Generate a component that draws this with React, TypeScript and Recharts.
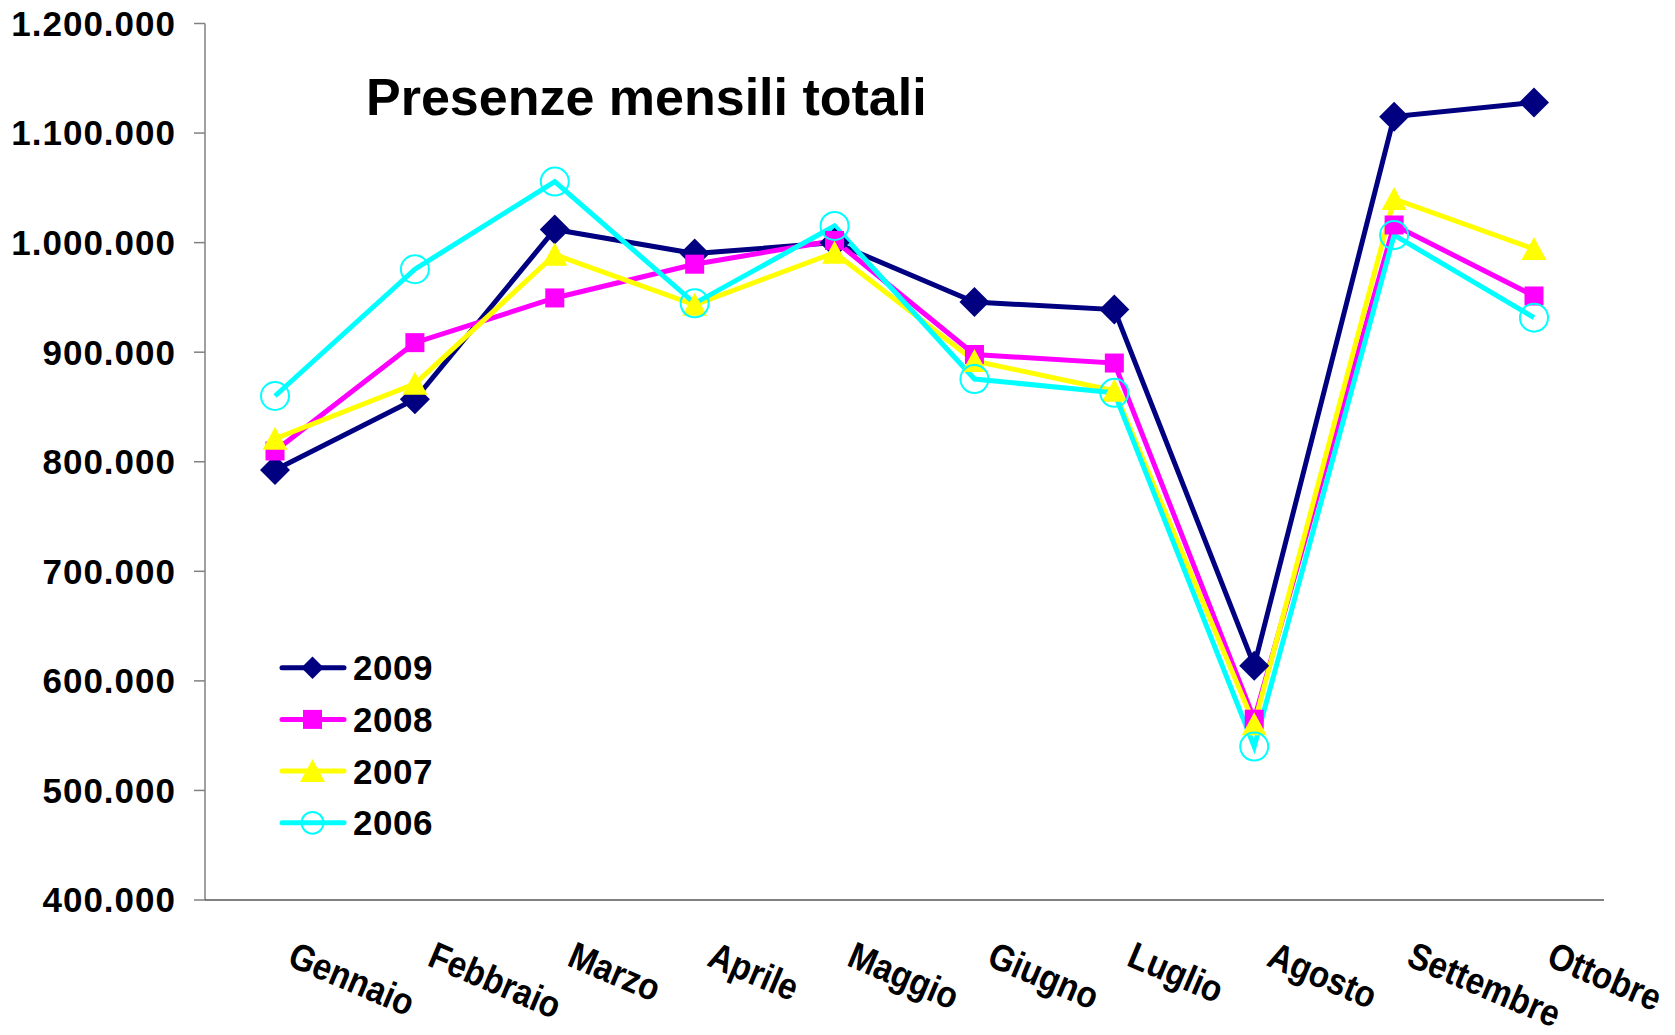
import React from 'react';
import { LineChart, Line, XAxis, YAxis } from 'recharts';

const months = [
  'Gennaio', 'Febbraio', 'Marzo', 'Aprile', 'Maggio',
  'Giugno', 'Luglio', 'Agosto', 'Settembre', 'Ottobre',
];

const values2009 = [792500, 857000, 1012000, 990000, 1000000, 945700, 938900, 613900, 1115000, 1128000];
const values2008 = [809800, 908700, 949500, 980300, 1002000, 897900, 890100, 565000, 1016100, 951300];
const values2007 = [821000, 871200, 989000, 943300, 990800, 892000, 864800, 560500, 1039800, 994200];
const values2006 = [860000, 975700, 1055700, 944600, 1015200, 875500, 862900, 540000, 1006900, 931500];

const yTicks = [400000, 500000, 600000, 700000, 800000, 900000, 1000000, 1100000, 1200000];

const series = [
  { key: 's2009', name: '2009', values: values2009, color: '#000080', shape: 'diamond' },
  { key: 's2008', name: '2008', values: values2008, color: '#FF00FF', shape: 'square' },
  { key: 's2007', name: '2007', values: values2007, color: '#FFFF00', shape: 'triangle' },
  { key: 's2006', name: '2006', values: values2006, color: '#00FFFF', shape: 'circle' },
];

const data = months.map((month, i) => {
  const row: Record<string, string | number> = { month };
  series.forEach((s) => {
    row[s.key] = s.values[i];
  });
  return row;
});

const FONT = '"Liberation Sans", Arial, Helvetica, sans-serif';

const formatThousands = (n: number) => String(n).replace(/\B(?=(\d{3})+(?!\d))/g, '.');

function Marker({ cx, cy, shape, color, scale = 1 }: any) {
  if (cx == null || cy == null) return null;
  if (shape === 'diamond') {
    const h = 15 * scale;
    return (
      <polygon
        points={`${cx},${cy - h} ${cx + h},${cy} ${cx},${cy + h} ${cx - h},${cy}`}
        fill={color}
      />
    );
  }
  if (shape === 'square') {
    const s = 19 * scale;
    return <rect x={cx - s / 2} y={cy - s / 2} width={s} height={s} fill={color} />;
  }
  if (shape === 'triangle') {
    const w = 12.5 * scale;
    return (
      <polygon
        points={`${cx},${cy - 12 * scale} ${cx + w},${cy + 11 * scale} ${cx - w},${cy + 11 * scale}`}
        fill={color}
      />
    );
  }
  return <circle cx={cx} cy={cy} r={14 * scale} fill="none" stroke={color} strokeWidth={2} />;
}

// month labels: slanted, a bit condensed like the original
function MonthTick({ x, y, payload }: any) {
  const ax = x + 11;
  const ay = y + 65;
  return (
    <g transform={`translate(${ax},${ay}) rotate(23) scale(0.88,1)`}>
      <text
        x={0}
        y={0}
        textAnchor="start"
        fontFamily={FONT}
        fontWeight="bold"
        fontSize={37.5}
        fill="#000"
      >
        {payload.value}
      </text>
    </g>
  );
}

function ChartLegend() {
  const rowGap = 51.7;
  return (
    <svg
      width={220}
      height={220}
      style={{ position: 'absolute', left: 270, top: 640 }}
    >
      {series.map((s, i) => {
        const cy = 27.7 + i * rowGap;
        return (
          <g key={s.key}>
            <line x1={12} y1={cy} x2={74} y2={cy} stroke={s.color} strokeWidth={5} strokeLinecap="round" />
            <Marker cx={42.5} cy={cy} shape={s.shape} color={s.color} scale={s.shape === 'diamond' ? 0.75 : s.shape === 'circle' ? 0.78 : 1} />
            <text
              x={83}
              y={cy + 12.5}
              fontFamily={FONT}
              fontWeight="bold"
              fontSize={35}
              letterSpacing={0.5}
              fill="#000"
            >
              {s.name}
            </text>
          </g>
        );
      })}
    </svg>
  );
}

export default function App() {
  return (
    <div style={{ position: 'absolute', left: 0, top: 0, width: 1675, height: 1035, background: '#fff' }}>
      <LineChart
        width={1675}
        height={1035}
        data={data}
        margin={{ top: 23.5, right: 71, bottom: 0, left: 0 }}
      >
        <XAxis
          dataKey="month"
          height={135}
          padding={{ left: 70, right: 70 }}
          axisLine={{ stroke: '#808080', strokeWidth: 2 }}
          tickLine={false}
          tickSize={0}
          tickMargin={0}
          interval={0}
          tick={<MonthTick />}
        />
        <YAxis
          width={205}
          domain={[400000, 1200000]}
          ticks={yTicks}
          allowDataOverflow
          axisLine={{ stroke: '#404040', strokeWidth: 1 }}
          tickLine={{ stroke: '#808080', strokeWidth: 1.5 }}
          tickSize={11}
          tickMargin={18}
          tickFormatter={formatThousands}
          tick={{ fontFamily: FONT, fontWeight: 'bold', fontSize: 35, letterSpacing: 1, fill: '#000' }}
        />
        {series.map((s) => (
          <Line
            key={s.key}
            dataKey={s.key}
            name={s.name}
            type="linear"
            stroke={s.color}
            strokeWidth={5}
            isAnimationActive={false}
            activeDot={false}
            dot={(p: any) => (
              <Marker key={`${s.key}-${p.index}`} cx={p.cx} cy={p.cy} shape={s.shape} color={s.color} />
            )}
          />
        ))}
      </LineChart>
      <div
        style={{
          position: 'absolute',
          left: 366,
          top: 71,
          fontFamily: FONT,
          fontWeight: 'bold',
          fontSize: 52,
          lineHeight: 1,
          whiteSpace: 'nowrap',
          color: '#000',
        }}
      >
        Presenze mensili totali
      </div>
      <ChartLegend />
    </div>
  );
}
